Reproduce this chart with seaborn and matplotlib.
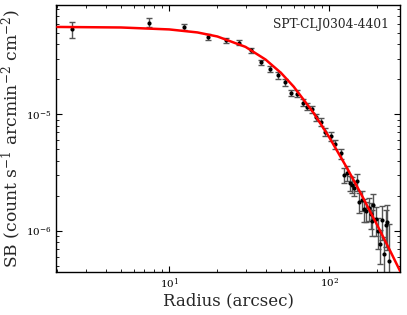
import numpy as np
import pandas as pd
import matplotlib
matplotlib.use("Agg")
import matplotlib.pyplot as plt
import seaborn as sns

# Observed surface-brightness profile
radius = [2.47, 7.47, 12.4, 17.5, 22.6, 27.4, 32.4, 37.6, 42.6, 47.6, 52.6, 57.7,
          62.5, 68.2, 72.9, 77.9, 82.6, 88.3, 94.0, 102.5, 108.6, 117.8,
          123.6, 128.4, 134.1, 138.6, 142.6, 148.9, 154.0, 160.0, 164.8, 170.8,
          177.8, 182.3, 184.8, 188.8, 195.0, 200.7, 208.4, 213.4, 221.3, 225.1,
          230.4, 235.0]
sb = [5.37e-5, 6.13e-5, 5.66e-5, 4.61e-5, 4.33e-5, 4.12e-5, 3.55e-5, 2.81e-5,
      2.47e-5, 2.16e-5, 1.88e-5, 1.53e-5, 1.51e-5, 1.26e-5, 1.16e-5, 1.11e-5,
      9.43e-6, 8.63e-6, 7.09e-6, 6.51e-6, 5.56e-6, 4.62e-6,
      3.04e-6, 3.13e-6, 2.58e-6, 2.49e-6, 2.35e-6, 2.65e-6, 1.77e-6, 1.84e-6,
      1.54e-6, 1.48e-6, 1.57e-6, 1.39e-6, 1.21e-6, 1.66e-6, 1.25e-6, 9.94e-7,
      7.69e-7, 1.24e-6, 6.31e-7, 1.12e-6, 1.18e-6, 5.49e-7]
sb_err = [0.80e-5, 0.55e-5, 0.30e-5, 0.25e-5, 0.22e-5, 0.20e-5, 0.18e-5, 0.15e-5,
          0.14e-5, 0.13e-5, 0.12e-5, 0.10e-5, 0.10e-5, 0.09e-5, 0.08e-5, 0.08e-5,
          0.7e-6, 0.7e-6, 0.6e-6, 0.6e-6, 0.5e-6, 0.45e-6,
          0.45e-6, 0.45e-6, 0.4e-6, 0.4e-6, 0.35e-6, 0.45e-6, 0.35e-6, 0.35e-6,
          0.35e-6, 0.3e-6, 0.35e-6, 0.35e-6, 0.3e-6, 0.4e-6, 0.35e-6, 0.3e-6,
          0.25e-6, 0.4e-6, 0.25e-6, 0.4e-6, 0.5e-6, 0.6e-6]

# Best-fit model curve
model_r = [2, 5, 10, 15, 20, 30, 40, 50, 60, 80, 100, 130, 160, 200, 240, 280]
model_sb = [5.64e-5, 5.58e-5, 5.37e-5, 5.06e-5, 4.67e-5, 3.80e-5, 2.96e-5, 2.27e-5,
            1.73e-5, 1.026e-5, 6.37e-6, 3.41e-6, 2.01e-6, 1.11e-6, 6.75e-7, 4.39e-7]

cluster_name = "SPT-CLJ0304-4401"

sns.set_style("ticks")
plt.rcParams["font.family"] = ["DejaVu Serif"]
plt.rcParams["mathtext.fontset"] = "dejavuserif"

fig = plt.figure(figsize=(4.07, 3.15), dpi=100)
ax = fig.add_axes([0.1376, 0.1365, 0.8464, 0.8475])

df = pd.DataFrame({"r": radius, "sb": sb, "err": sb_err})
mdf = pd.DataFrame({"r": model_r, "sb": model_sb})

ax.errorbar(df["r"], df["sb"], yerr=df["err"], fmt="none", ecolor="#555555",
            elinewidth=1.0, capsize=2.5, capthick=1.0, zorder=2)
sns.scatterplot(data=df, x="r", y="sb", ax=ax, color="black", s=9,
                edgecolor="black", linewidth=0, zorder=3)
sns.lineplot(data=mdf, x="r", y="sb", ax=ax, color="red", linewidth=1.8,
             zorder=4, sort=True)

ax.set_xscale("log")
ax.set_yscale("log")
ax.set_xlim(1.96, 279)
ax.set_ylim(4.42e-7, 8.7e-5)

ax.set_xlabel("Radius (arcsec)", fontsize=12, labelpad=1)
ax.set_ylabel(r"SB (count s$^{-1}$ arcmin$^{-2}$ cm$^{-2}$)", fontsize=12.3, labelpad=2)

ax.tick_params(which="both", direction="in", top=True, right=True,
               labelsize=7.5, colors="black")
ax.tick_params(which="major", length=4.5, width=0.8)
ax.tick_params(which="minor", length=2.5, width=0.6)
for s in ax.spines.values():
    s.set_color("black")
    s.set_linewidth(1.0)

ax.text(0.965, 0.95, cluster_name, transform=ax.transAxes, ha="right", va="top",
        fontsize=8.8)

fig.savefig("out.png", dpi=100)
